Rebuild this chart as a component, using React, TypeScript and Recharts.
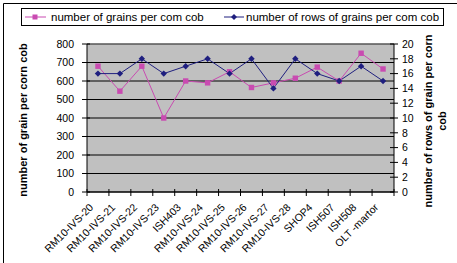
import { LineChart, Line, XAxis, YAxis, CartesianGrid, ReferenceLine } from "recharts";

const CATEGORIES = [
  "RM10-IVS-20",
  "RM10-IVS-21",
  "RM10-IVS-22",
  "RM10-IVS-23",
  "ISH403",
  "RM10-IVS-24",
  "RM10-IVS-25",
  "RM10-IVS-26",
  "RM10-IVS-27",
  "RM10-IVS-28",
  "SHOP4",
  "ISH507",
  "ISH508",
  "OLT -martor",
];
const GRAINS = [680, 545, 680, 400, 600, 590, 650, 565, 590, 615, 675, 600, 750, 665];
const ROWS = [16, 16, 18, 16, 17, 18, 16, 18, 14, 18, 16, 15, 17, 15];
const LEFT_TICKS = [0, 100, 200, 300, 400, 500, 600, 700, 800];
const RIGHT_TICKS = [0, 2, 4, 6, 8, 10, 12, 14, 16, 18, 20];

const W = 457;
const H = 263;
const PLOT_LEFT = 87;
const PLOT_RIGHT = 394;
const PLOT_TOP = 44;
const PLOT_BOTTOM = 192;
const FONT = "'Liberation Sans', Arial, sans-serif";
const PINK = "#c94bb1";
const NAVY = "#1f1f7f";

const data = CATEGORIES.map((name, i) => ({
  pos: i + 0.5,
  name,
  grains: GRAINS[i],
  rows: ROWS[i],
}));
const xTicks = [...CATEGORIES.map((_, i) => i), CATEGORIES.length];

function XTick(props: any) {
  const { x, y, payload } = props;
  const band = (PLOT_RIGHT - PLOT_LEFT) / CATEGORIES.length;
  const i = payload.value;
  const ax = x + band / 2 - 4;
  const ay = y + 16;
  return (
    <g>
      <line x1={x} x2={x} y1={y - 3} y2={y + 4} stroke="#000" />
      {i < CATEGORIES.length && (
        <text
          x={ax}
          y={ay}
          transform={`rotate(-45, ${ax}, ${ay})`}
          textAnchor="end"
          fontSize={10.5}
          fontFamily={FONT}
          fill="#000"
        >
          {CATEGORIES[i]}
        </text>
      )}
    </g>
  );
}

function LeftTick(props: any) {
  const { x, y, payload } = props;
  return (
    <g>
      <line x1={x - 5} x2={x + 3} y1={y} y2={y} stroke="#000" />
      <text x={x - 13} y={y} dy="0.36em" textAnchor="end" fontSize={10.5} fontFamily={FONT} fill="#000">
        {payload.value}
      </text>
    </g>
  );
}

function RightTick(props: any) {
  const { x, y, payload } = props;
  return (
    <g>
      <line x1={x - 4} x2={x + 4} y1={y} y2={y} stroke="#000" />
      <text x={x + 8} y={y} dy="0.36em" textAnchor="start" fontSize={10.5} fontFamily={FONT} fill="#000">
        {payload.value}
      </text>
    </g>
  );
}

const SquareDot = (props: any) => {
  const { cx, cy, index } = props;
  return <rect key={`sq-${index}`} x={cx - 2.7} y={cy - 2.7} width={5.4} height={5.4} fill={PINK} />;
};

const DiamondDot = (props: any) => {
  const { cx, cy, index } = props;
  const r = 3.2;
  return (
    <polygon
      key={`di-${index}`}
      points={`${cx},${cy - r} ${cx + r},${cy} ${cx},${cy + r} ${cx - r},${cy}`}
      fill={NAVY}
    />
  );
};

export default function App() {
  return (
    <div style={{ position: "relative", width: W, height: H, background: "#fff" }}>
      <style>{"body{margin:0}"}</style>
      <LineChart
        width={W}
        height={H}
        data={data}
        margin={{ top: PLOT_TOP, right: 0, bottom: 0, left: 0 }}
      >
        <CartesianGrid yAxisId="left" vertical={false} stroke="#000" fill="#c0c0c0" />
        <XAxis
          dataKey="pos"
          type="number"
          domain={[0, CATEGORIES.length]}
          ticks={xTicks}
          interval={0}
          height={H - PLOT_BOTTOM}
          tickSize={0}
          tickMargin={0}
          tickLine={false}
          axisLine={{ stroke: "#000" }}
          tick={<XTick />}
        />
        <YAxis
          yAxisId="left"
          orientation="left"
          domain={[0, 800]}
          ticks={LEFT_TICKS}
          interval={0}
          width={PLOT_LEFT}
          tickSize={0}
          tickMargin={0}
          tickLine={false}
          axisLine={{ stroke: "#000" }}
          tick={<LeftTick />}
        />
        <YAxis
          yAxisId="right"
          orientation="right"
          domain={[0, 20]}
          ticks={RIGHT_TICKS}
          interval={0}
          width={W - PLOT_RIGHT}
          tickSize={0}
          tickMargin={0}
          tickLine={false}
          axisLine={{ stroke: "#000" }}
          tick={<RightTick />}
        />
        <ReferenceLine yAxisId="left" y={800} stroke="#808080" />
        <Line
          yAxisId="left"
          dataKey="grains"
          stroke={PINK}
          strokeWidth={1}
          dot={SquareDot}
          activeDot={false}
          isAnimationActive={false}
        />
        <Line
          yAxisId="right"
          dataKey="rows"
          stroke={NAVY}
          strokeWidth={1}
          dot={DiamondDot}
          activeDot={false}
          isAnimationActive={false}
        />
      </LineChart>

      {/* frame, legend and axis titles */}
      <svg
        width={W}
        height={H}
        style={{ position: "absolute", left: 0, top: 0, pointerEvents: "none" }}
        fontFamily={FONT}
      >
        <line x1={3.5} x2={W} y1={3.5} y2={3.5} stroke="#000" />
        <line x1={3.5} x2={3.5} y1={3.5} y2={H} stroke="#000" />

        <rect x={21.5} y={8.5} width={422} height={17} fill="#fff" stroke="#000" />
        <line x1={25} x2={46} y1={17} y2={17} stroke={PINK} />
        <rect x={32.5} y={14.5} width={5} height={5} fill={PINK} />
        <text x={51} y={17} dy="0.36em" fontSize={11.5} fill="#000">
          number of grains per com cob
        </text>
        <line x1={224} x2={244} y1={17} y2={17} stroke={NAVY} />
        <polygon points="234,14 237,17 234,20 231,17" fill={NAVY} />
        <text x={246} y={17} dy="0.36em" fontSize={11.5} fill="#000">
          number of rows of grains per com cob
        </text>

        <text
          x={23}
          y={120}
          transform="rotate(-90, 23, 120)"
          textAnchor="middle"
          dy="0.36em"
          fontSize={11}
          fontWeight="bold"
          fill="#000"
        >
          number of grain per corn cob
        </text>
        <text
          x={428}
          y={121}
          transform="rotate(-90, 428, 121)"
          textAnchor="middle"
          dy="0.36em"
          fontSize={11}
          fontWeight="bold"
          fill="#000"
        >
          number of rows of grain per corn
        </text>
        <text
          x={442}
          y={121}
          transform="rotate(-90, 442, 121)"
          textAnchor="middle"
          dy="0.36em"
          fontSize={11}
          fontWeight="bold"
          fill="#000"
        >
          cob
        </text>
      </svg>
    </div>
  );
}
